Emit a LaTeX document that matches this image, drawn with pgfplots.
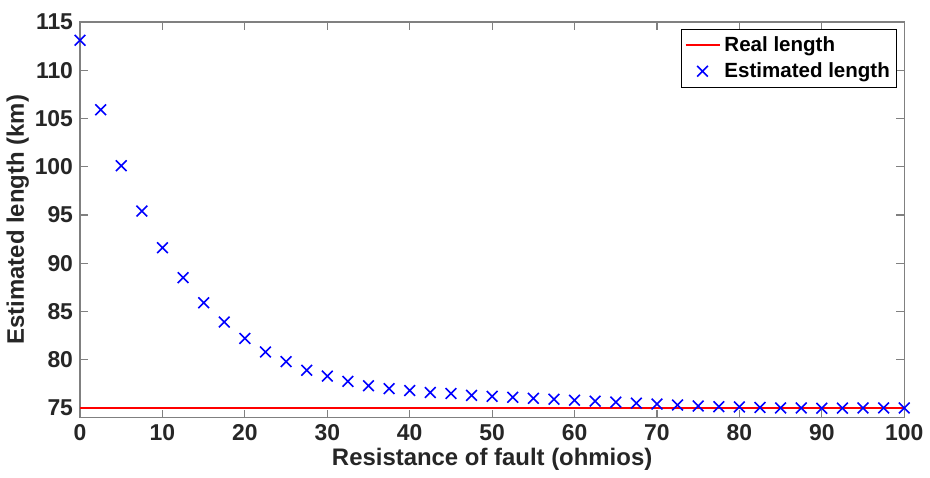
\documentclass[border=0pt]{standalone}
\usepackage{fontspec}
\setmainfont{Liberation Sans}
\usepackage{pgfplots}
\pgfplotsset{compat=1.18}
\definecolor{axgray}{RGB}{128,128,128}
\definecolor{txt}{RGB}{38,38,38}
\begin{document}
\begin{tikzpicture}
\begin{axis}[
    scale only axis,
    width=413.5pt, height=198.5pt,
    xmin=0, xmax=100, ymin=74, ymax=115,
    xtick={0,10,...,100}, ytick={75,80,...,115},
    tick align=inside, major tick length=4pt,
    axis line style={axgray, line width=0.6pt},
    every tick/.style={axgray, line width=0.6pt},
    tick label style={font=\bfseries\fontsize{11.5}{13}\selectfont, text=txt},
    /pgf/number format/assume math mode=true,
    xlabel={\bfseries Resistance of fault (ohmios)},
    ylabel={\bfseries Estimated length (km)},
    label style={font=\fontsize{12}{14}\selectfont, text=txt},
    xlabel style={yshift=3pt},
    ylabel style={yshift=-4pt},
    legend style={at={(0.9915,0.982)}, anchor=north east,
        font=\bfseries\fontsize{10.3}{12}\selectfont, draw=black,
        inner sep=1.5pt, row sep=0pt},
    legend cell align=left,
    clip=false,
]
\addplot[red, line width=0.9pt] coordinates {(0,75) (100,75)};
\addlegendentry{Real length}
\addplot[only marks, mark=x, blue, mark size=3.8pt, line width=0.8pt] coordinates {
(0,113.1) (2.5,105.9) (5,100.1) (7.5,95.4) (10,91.6) (12.5,88.5) (15,85.9)
(17.5,83.9) (20,82.2) (22.5,80.8) (25,79.8) (27.5,78.9) (30,78.3) (32.5,77.75)
(35,77.3) (37.5,77.0) (40,76.8) (42.5,76.6) (45,76.5) (47.5,76.3) (50,76.2)
(52.5,76.1) (55,76.0) (57.5,75.9) (60,75.8) (62.5,75.7) (65,75.6) (67.5,75.5)
(70,75.4) (72.5,75.3) (75,75.2) (77.5,75.13) (80,75.1) (82.5,75.05) (85,75.0)
(87.5,75.0) (90,74.97) (92.5,74.98) (95,75.0) (97.5,75.0) (100,75.0)};
\addlegendentry{Estimated length}
\end{axis}
\path (current axis.north) ++(0,11pt) coordinate (topspace);
\end{tikzpicture}
\end{document}
